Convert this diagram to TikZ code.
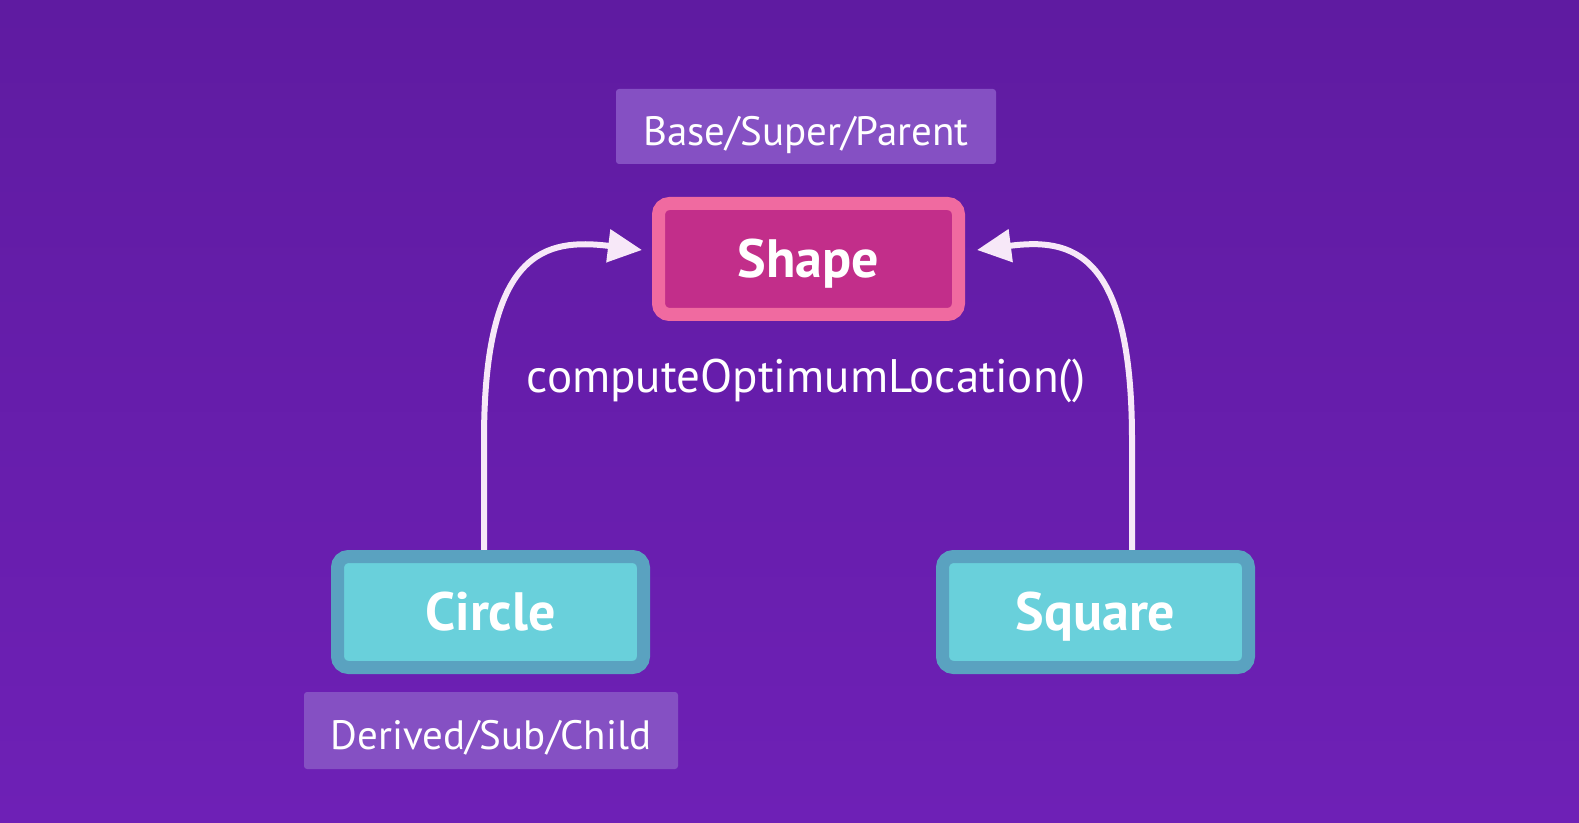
\documentclass[tikz,border=0pt]{standalone}
\usepackage{fontspec}
\setmainfont{PT Sans}
\usetikzlibrary{arrows.meta}
\definecolor{bgtop}{HTML}{5F1BA1}
\definecolor{bgbot}{HTML}{6E20B6}
\definecolor{labelfill}{HTML}{8550C3}
\definecolor{pinkedge}{HTML}{F06AA0}
\definecolor{pinkfill}{HTML}{C22E8A}
\definecolor{tealedge}{HTML}{5AA2C0}
\definecolor{tealfill}{HTML}{69D0DB}
\definecolor{arrowcol}{HTML}{F7E8F8}
\tikzset{
  labelbox/.style={fill=labelfill, rounded corners=1.5pt, inner sep=0pt, text=white,
    font=\fontsize{20.5}{24}\selectfont, text height=19.3pt, text depth=0pt},
  classbox/.style={line width=6.5pt, rounded corners=5.5pt, inner sep=0pt,
    minimum height=55.5pt, text=white, font=\bfseries\fontsize{27}{32}\selectfont,
    text height=18.9pt, text depth=0pt},
  parentbox/.style={classbox, draw=pinkedge, fill=pinkfill, minimum width=150pt},
  childbox/.style={classbox, draw=tealedge, fill=tealfill, minimum width=153pt},
  inherit/.style={draw=arrowcol, line width=3pt, -{Triangle[length=17pt,width=16pt]}},
  method/.style={text=white, inner sep=0pt, font=\fontsize{23.5}{28}\selectfont,
    text height=16.4pt, text depth=0pt}
}
\begin{document}
\begin{tikzpicture}[x=0.5pt,y=-0.5pt]
\shade[top color=bgtop, bottom color=bgbot] (0,0) rectangle (1579,823);
\useasboundingbox (0,0) rectangle (1579,823);

\node[labelbox, minimum width=190pt, minimum height=37.5pt] (base) at (806,126.5) {Base/Super/Parent};
\node[labelbox, minimum width=187pt, minimum height=38.5pt] (derived) at (491,730.5) {Derived/Sub/Child};

\coordinate (ltip) at (642,250);
\coordinate (rtip) at (977,250);
\coordinate (lbend) at (484,440);
\coordinate (rbend) at (1132,440);
\coordinate (lstart) at (484,552);
\coordinate (rstart) at (1132,552);

\draw[inherit] (lstart) -- (lbend) .. controls (484,250) and (545,238) .. (ltip);
\draw[inherit] (rstart) -- (rbend) .. controls (1132,250) and (1071,238) .. (rtip);

\node[parentbox] (shape) at (808.5,259) {Shape};
\node[childbox] (circle) at (490.5,612) {Circle};
\node[childbox] (square) at (1095.5,612) {Square};

\node[method] (meth) at (806,376) {computeOptimumLocation()};
\end{tikzpicture}
\end{document}
